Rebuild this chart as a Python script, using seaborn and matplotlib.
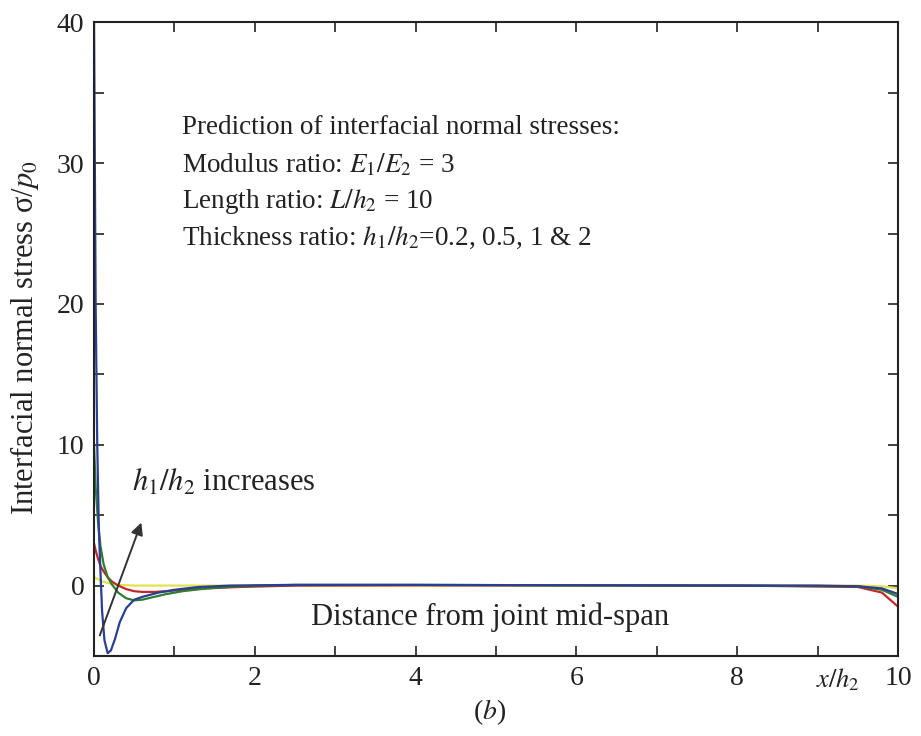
import numpy as np
import pandas as pd
import matplotlib
matplotlib.use("Agg")
import matplotlib.pyplot as plt
import seaborn as sns

# ---- data ----
x_blue = [0, 0.01, 0.02, 0.04, 0.06, 0.08, 0.10, 0.13, 0.17, 0.21, 0.26, 0.32, 0.40, 0.50, 0.60, 0.80, 1.0, 1.3, 1.7, 2.5, 4, 6, 8, 9, 9.5, 9.8, 10]
y_blue = [40, 30, 20, 10, 4, 1, -1.8, -3.9, -4.8, -4.6, -3.8, -2.6, -1.6, -1.0, -0.8, -0.5, -0.3, -0.1, 0, 0.05, 0.05, 0.02, 0, 0, -0.05, -0.2, -0.6]

x_green = [0, 0.02, 0.05, 0.08, 0.12, 0.17, 0.22, 0.30, 0.40, 0.50, 0.60, 0.75, 0.9, 1.1, 1.4, 1.8, 2.5, 4, 6, 8, 9.5, 9.8, 10]
y_green = [10, 7, 4.5, 2.8, 1.5, 0.6, 0.1, -0.5, -0.9, -1.05, -1.0, -0.8, -0.6, -0.4, -0.2, -0.05, 0.05, 0.05, 0.02, 0, -0.05, -0.3, -0.8]

x_red = [0, 0.02, 0.05, 0.08, 0.12, 0.17, 0.22, 0.30, 0.40, 0.50, 0.60, 0.75, 0.9, 1.1, 1.4, 1.8, 2.5, 4, 6, 8, 9.5, 9.8, 10]
y_red = [3, 2.5, 1.9, 1.4, 1.0, 0.6, 0.3, 0.0, -0.25, -0.4, -0.45, -0.45, -0.4, -0.3, -0.2, -0.1, 0, 0.02, 0.02, 0, -0.1, -0.5, -1.5]

x_yellow = [0, 0.05, 0.1, 0.2, 0.3, 0.5, 1.0, 2, 4, 6, 8, 9.5, 9.8, 10]
y_yellow = [0.6, 0.45, 0.3, 0.15, 0.05, 0.0, 0.0, 0.0, 0.0, 0.0, 0.0, 0.0, -0.05, -0.2]

series_labels = ["0.2", "0.5", "1", "2"]
series_colors = ["#2a3f93", "#2f7d2f", "#c0282e", "#e4e24a"]

frames = []
for lab, xs, ys in zip(series_labels, [x_blue, x_green, x_red, x_yellow], [y_blue, y_green, y_red, y_yellow]):
    frames.append(pd.DataFrame({"x": xs, "y": ys, "ratio": lab}))
df = pd.concat(frames, ignore_index=True)

# ---- style ----
sns.set_theme(style="ticks")
plt.rcParams["font.family"] = ["Liberation Serif", "DejaVu Serif"]
plt.rcParams["mathtext.fontset"] = "stix"
plt.rcParams["axes.edgecolor"] = "#222222"

fig = plt.figure(figsize=(9.21, 7.36), dpi=100)
ax = fig.add_axes([0.1021, 0.1087, 0.873, 0.861])

sns.lineplot(data=df, x="x", y="y", hue="ratio", palette=dict(zip(series_labels, series_colors)),
             hue_order=series_labels[::-1], sort=False, estimator=None, legend=False, linewidth=1.6, ax=ax)

ax.set_xlim(0, 10)
ax.set_ylim(-5, 40)
ax.set_xticks(np.arange(0, 11, 2))
ax.set_xticks(np.arange(0, 11, 1), minor=True)
ax.set_yticks([0, 10, 20, 30, 40])
ax.set_yticks(np.arange(-5, 41, 5), minor=True)
ax.tick_params(which="both", direction="in", top=True, right=True, labelsize=20, colors="#222222")
ax.tick_params(which="major", length=7, width=1.2, pad=7)
ax.tick_params(which="minor", length=7, width=1.2)
for s in ax.spines.values():
    s.set_linewidth(1.5)
    s.set_visible(True)

ax.set_xlabel("")
ax.set_ylabel(r"Interfacial normal stress σ/$p_0$", fontsize=22, color="#222222")
ax.yaxis.set_label_coords(-0.066, 0.503)

txt_kw = dict(fontsize=19.5, color="#222222", va="center", ha="left")
ax.text(1.1, 32.55, "Prediction of interfacial normal stresses:", **txt_kw)
ax.text(1.1, 29.85, r"Modulus ratio: $E_1/E_2$ = 3", **txt_kw)
ax.text(1.1, 27.3, r"Length ratio: $L/h_2$ = 10", **txt_kw)
ax.text(1.1, 24.67, r"Thickness ratio: $h_1/h_2$=0.2, 0.5, 1 & 2", **txt_kw)
ax.text(0.47, 7.28, r"$h_1/h_2$ increases", fontsize=22, color="#222222", va="center", ha="left")
ax.text(4.92, -2.23, "Distance from joint mid-span", fontsize=22, color="#222222", ha="center", va="center")

ax.annotate("", xy=(0.6, 4.66), xytext=(0.06, -3.72),
            arrowprops=dict(arrowstyle="-|>", color="#333333", lw=1.4, mutation_scale=18))

fig.text(838 / 921, 1 - 680 / 736, r"$x/h_2$", fontsize=19, color="#222222", ha="center", va="center")
fig.text(490 / 921, 1 - 712 / 736, r"($b$)", fontsize=20, color="#222222", ha="center", va="center")

fig.savefig("out.png", dpi=100)
